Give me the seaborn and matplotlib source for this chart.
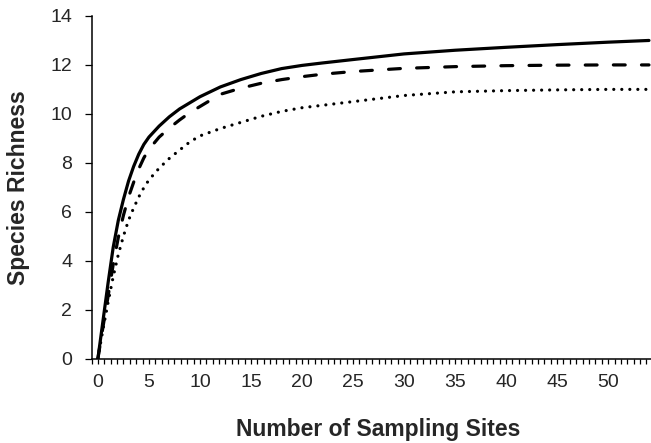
import matplotlib
matplotlib.use("Agg")
import matplotlib.pyplot as plt
from matplotlib.ticker import MultipleLocator, FixedLocator
import seaborn as sns

# ---- data ----
sites = [0, 0.5, 1, 1.5, 2, 2.5, 3, 3.5, 4, 4.5, 5, 6, 7, 8, 9, 10, 12, 14,
         16, 18, 20, 22, 25, 30, 35, 40, 45, 50, 54]
richness_solid = [0, 1.55, 3.1, 4.55, 5.65, 6.5, 7.25, 7.85, 8.35, 8.75, 9.05,
                  9.5, 9.88, 10.2, 10.45, 10.7, 11.1, 11.4, 11.65, 11.85,
                  11.98, 12.08, 12.22, 12.45, 12.6, 12.72, 12.83, 12.93, 13.0]
richness_dashed = [0, 1.3, 2.55, 3.85, 4.95, 5.85, 6.6, 7.2, 7.75, 8.2, 8.55,
                   9.05, 9.42, 9.75, 10.05, 10.3, 10.8, 11.05, 11.25, 11.4,
                   11.52, 11.62, 11.73, 11.86, 11.93, 11.97, 11.99, 12.0, 12.0]
richness_dotted = [0, 1.2, 2.3, 3.35, 4.25, 5.0, 5.65, 6.15, 6.6, 6.98, 7.3,
                   7.78, 8.18, 8.52, 8.85, 9.1, 9.4, 9.65, 9.9, 10.1, 10.25,
                   10.35, 10.5, 10.75, 10.9, 10.95, 10.98, 11.0, 11.0]
x_tick_labels = ["0", "5", "10", "15", "20", "25", "30", "35", "40", "45", "50"]
y_tick_labels = ["0", "2", "4", "6", "8", "10", "12", "14"]

sns.set_style("white")
plt.rcParams["font.family"] = ["Liberation Sans", "DejaVu Sans"]

fig = plt.figure(figsize=(6.51, 4.43), dpi=100)
ax = fig.add_axes([0.1406, 0.1907, 0.8594, 0.7732])

lw = 2.3
sns.lineplot(x=sites, y=richness_solid, ax=ax, color="black", linewidth=lw,
             solid_capstyle="round", solid_joinstyle="round")
sns.lineplot(x=sites, y=richness_dashed, ax=ax, color="black", linewidth=lw,
             linestyle=(0, (3.7, 5.1)), dash_capstyle="round")
sns.lineplot(x=sites, y=richness_dotted, ax=ax, color="black", linewidth=lw,
             linestyle=(0, (0.01, 2.5)), dash_capstyle="round")

ax.set_xlim(-0.625, 54.2)
ax.set_ylim(0, 14)

xt = [float(v) for v in x_tick_labels]
yt = [float(v) for v in y_tick_labels]
ax.xaxis.set_major_locator(FixedLocator(xt))
ax.set_xticklabels(x_tick_labels)
ax.xaxis.set_minor_locator(MultipleLocator(0.625))
ax.yaxis.set_major_locator(FixedLocator(yt))
ax.set_yticklabels(y_tick_labels)

for side in ["top", "right"]:
    ax.spines[side].set_visible(False)
for side in ["left", "bottom"]:
    ax.spines[side].set_color("black")
    ax.spines[side].set_linewidth(1.1)

ax.tick_params(axis="x", which="both", direction="out", length=3.8, width=0.9,
               color="black", bottom=True, pad=7.5, labelsize=14)
ax.tick_params(axis="y", which="major", direction="out", length=4.8, width=0.9,
               color="black", left=True, pad=9, labelsize=14)

ax.set_xlabel("Number of Sampling Sites", fontsize=16.5, fontweight="bold",
              va="top")
ax.set_ylabel("Species Richness", fontsize=16.5, fontweight="bold")
ax.xaxis.set_label_coords(0.512, -0.175)
ax.yaxis.set_label_coords(-0.11, 0.5)
ax.grid(False)

fig.savefig("out.png", dpi=100)
